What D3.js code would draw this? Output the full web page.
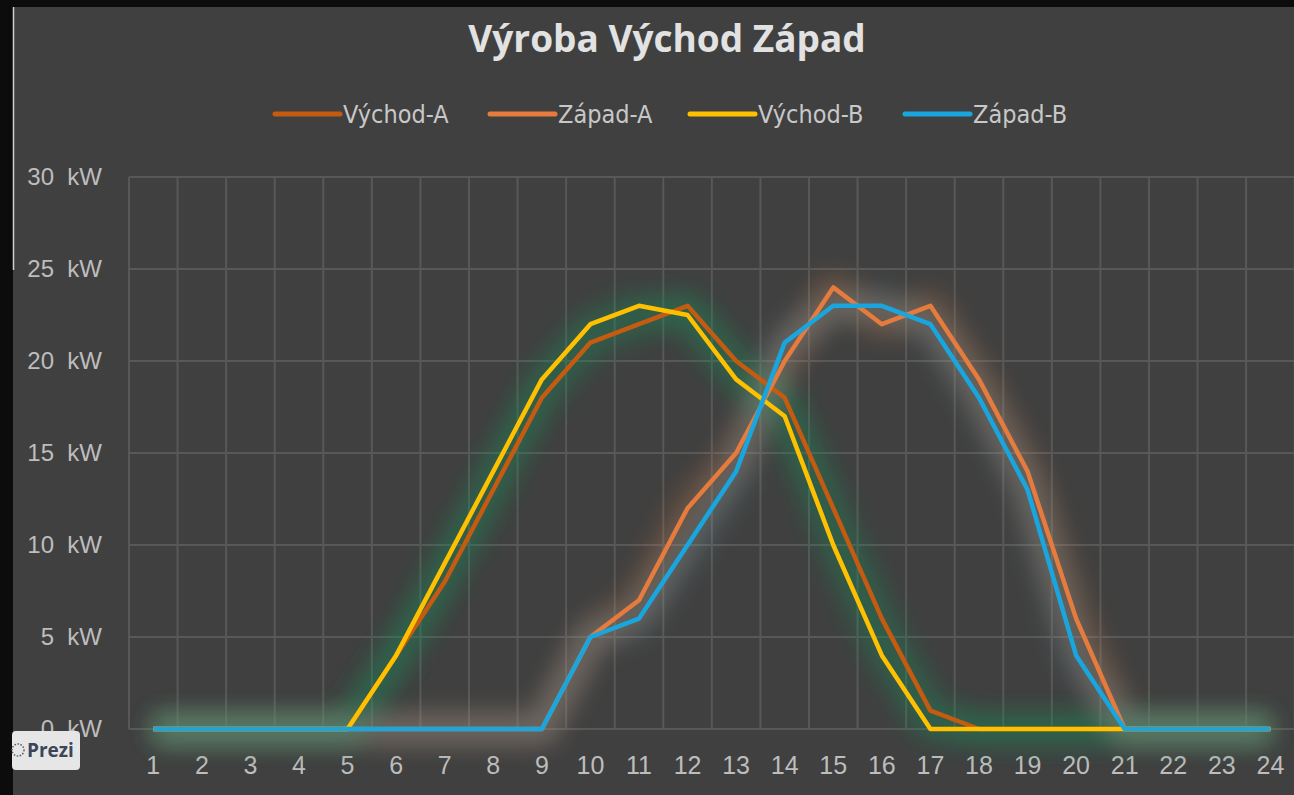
<!DOCTYPE html>
<meta charset="utf-8">
<head>
  <title>Výroba Východ Západ</title>
  <style>
    body { margin: 0; background: #0c0c0c; }
    svg { display: block; }
  </style>
</head>
<body>
<script src="https://d3js.org/d3.v7.min.js"></script>
<div id="chart"></div>
<script>

// data (hour of day -> kW)
var hours = d3.range(1, 25);
var seriesNames = ["Východ-A", "Západ-A", "Východ-B", "Západ-B"];
var vychodA = [0,0,0,0,0,4,8,13,18,21,22,23,20,18,12,6,1,0,0,0,0,0,0,0];
var zapadA  = [0,0,0,0,0,0,0,0,0,5,7,12,15,20,24,22,23,19,14,6,0,0,0,0];
var vychodB = [0,0,0,0,0,4,9,14,19,22,23,22.5,19,17,10,4,0,0,0,0,0,0,0,0];
var zapadB  = [0,0,0,0,0,0,0,0,0,5,6,10,14,21,23,23,22,18,13,4,0,0,0,0];
var yTicks = [0, 5, 10, 15, 20, 25, 30];

var lineColors = ["#c55a11", "#e57b3c", "#ffc000", "#19a6de"];
var glowColors = ["#1f8a58", "#c0703a", "#1f8a58", "#7ea4b4"];

var series = [vychodA, zapadA, vychodB, zapadB].map(function(vals, i) {
  return { name: seriesNames[i], values: vals.map(function(v, j) { return { h: hours[j], v: v }; }) };
});

var W = 1294, H = 795;
var plotLeft = 129, plotTop = 177, plotBottom = 729, band = 48.57;

var svg = d3.select("#chart").append("svg")
    .attr("width", W)
    .attr("height", H);

// dark frame + panel
svg.append("rect").attr("width", W).attr("height", H).attr("fill", "#0c0c0c");
svg.append("rect").attr("x", 13).attr("y", 7).attr("width", W - 13).attr("height", H - 7).attr("fill", "#404040");
svg.append("line").attr("x1", 13.5).attr("x2", 13.5).attr("y1", 7).attr("y2", 270)
    .attr("stroke", "#d0d0d0").attr("stroke-width", 1.5);

var defs = svg.append("defs");
defs.append("filter").attr("id", "glow")
    .attr("x", "-20%").attr("y", "-20%").attr("width", "140%").attr("height", "140%")
  .append("feGaussianBlur").attr("stdDeviation", 12);

var x = d3.scaleBand()
    .domain(hours)
    .range([plotLeft, plotLeft + band * hours.length]);

var y = d3.scaleLinear()
    .domain([0, 30])
    .range([plotBottom, plotTop]);

// grid
var grid = svg.append("g").attr("stroke", "#585858").attr("stroke-width", 2);
grid.selectAll("line.h")
  .data(yTicks)
  .enter().append("line")
    .attr("x1", plotLeft).attr("x2", x.range()[1])
    .attr("y1", function(d) { return y(d); })
    .attr("y2", function(d) { return y(d); });
grid.selectAll("line.v")
  .data(hours.concat([25]))
  .enter().append("line")
    .attr("x1", function(d) { return d > 24 ? x.range()[1] : x(d); })
    .attr("x2", function(d) { return d > 24 ? x.range()[1] : x(d); })
    .attr("y1", plotTop).attr("y2", plotBottom);

// axes
var yAxis = svg.append("g")
    .attr("transform", "translate(" + plotLeft + ",0)")
    .call(d3.axisLeft(y).tickValues(yTicks).tickSize(0).tickPadding(27)
      .tickFormat(function(d) { return d + "\u00a0 kW"; }));
yAxis.select(".domain").remove();
yAxis.selectAll("text")
    .attr("fill", "#bdbdbd")
    .style("font", "24px 'Liberation Sans', Arial, sans-serif");

var xAxis = svg.append("g")
    .attr("transform", "translate(0," + plotBottom + ")")
    .call(d3.axisBottom(x).tickSize(0).tickPadding(27));
xAxis.select(".domain").remove();
xAxis.selectAll("text")
    .attr("fill", "#bdbdbd")
    .style("font", "25px 'Liberation Sans', Arial, sans-serif");

var line = d3.line()
    .x(function(d) { return x(d.h) + x.bandwidth() / 2; })
    .y(function(d) { return y(d.v); });

// soft glow under the lines
svg.append("g").selectAll("path")
  .data(series)
  .enter().append("path")
    .attr("d", function(d) { return line(d.values); })
    .attr("fill", "none")
    .attr("stroke", function(d, i) { return glowColors[i]; })
    .attr("stroke-width", 30)
    .attr("stroke-linejoin", "round")
    .attr("opacity", 0.3)
    .attr("filter", "url(#glow)");

svg.append("g").selectAll("path")
  .data(series)
  .enter().append("path")
    .attr("d", function(d) { return line(d.values); })
    .attr("fill", "none")
    .attr("stroke", function(d, i) { return lineColors[i]; })
    .attr("stroke-width", 4.5)
    .attr("stroke-linejoin", "round");

// title
svg.append("text")
    .attr("x", 667).attr("y", 52)
    .attr("text-anchor", "middle")
    .attr("fill", "#e2e2e2")
    .style("font", "bold 37px 'Open Sans', 'Liberation Sans', sans-serif")
    .text("Výroba Východ Západ");

// legend
var legendX = [275, 490, 690, 905];
var legend = svg.append("g").selectAll("g")
  .data(seriesNames)
  .enter().append("g")
    .attr("transform", function(d, i) { return "translate(" + legendX[i] + ",114)"; });
legend.append("line")
    .attr("x1", 0).attr("x2", 65)
    .attr("stroke", function(d, i) { return lineColors[i]; })
    .attr("stroke-width", 5)
    .attr("stroke-linecap", "round");
legend.append("text")
    .attr("x", 68).attr("y", 9)
    .attr("fill", "#c8c8c8")
    .style("font", "25px 'Liberation Sans Narrow', 'DejaVu Sans Condensed', sans-serif")
    .text(function(d) { return d; });

// prezi badge (sits over the 0 kW label, as in the source)
var badge = svg.append("g").attr("transform", "translate(12,731)");
badge.append("rect").attr("width", 68).attr("height", 39).attr("rx", 4).attr("fill", "#e6e6e6");
badge.append("circle").attr("cx", 6).attr("cy", 19).attr("r", 6)
    .attr("fill", "none").attr("stroke", "#555d6b").attr("stroke-width", 1.5).attr("stroke-dasharray", "1.5 1.5");
badge.append("text").attr("x", 15).attr("y", 26)
    .attr("fill", "#3b4658")
    .style("font", "bold 19px 'Open Sans', sans-serif")
    .text("Prezi");

</script>
</body>
</html>
